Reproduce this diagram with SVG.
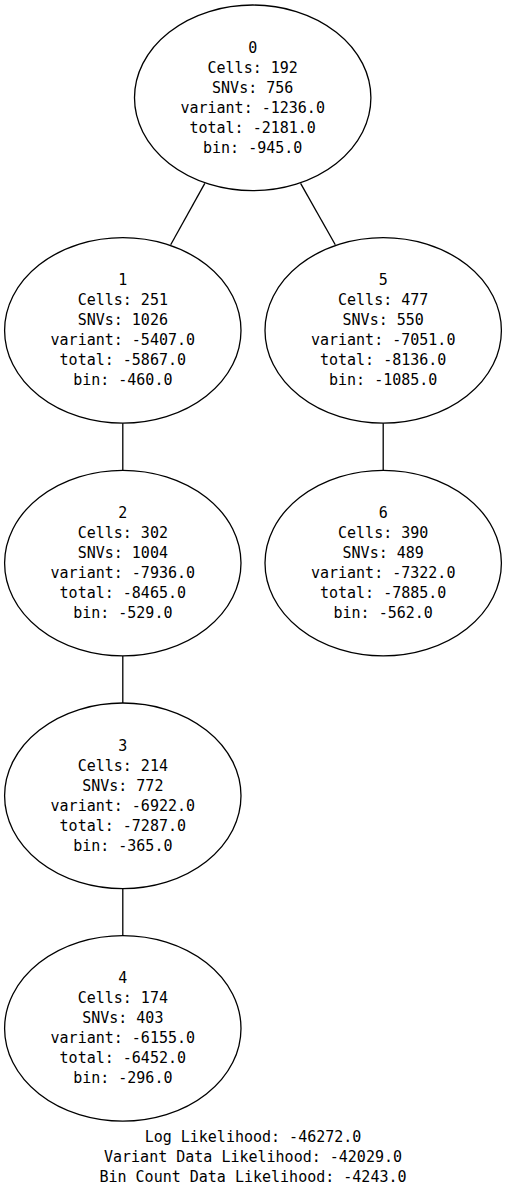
<svg xmlns="http://www.w3.org/2000/svg" width="507" height="1192" viewBox="0 0 507 1192">
<style>
.node ellipse{fill:none;stroke:#000;stroke-width:1.3}
.edges line{stroke:#000;stroke-width:1.3}
text{font-family:"DejaVu Sans Mono","Liberation Mono",monospace;font-size:15px;fill:#000;text-anchor:middle}
</style>
<rect width="507" height="1192" fill="#fff"/>
<g id="edges" class="edges">
<line x1="204.8" y1="183.4" x2="170.7" y2="244.8"/>
<line x1="300.6" y1="183.4" x2="335.3" y2="244.8"/>
<line x1="122.8" y1="423.2" x2="122.8" y2="470.3"/>
<line x1="383.2" y1="423.2" x2="383.2" y2="470.3"/>
<line x1="122.8" y1="655.9" x2="122.8" y2="703"/>
<line x1="122.8" y1="888.6" x2="122.8" y2="935.6"/>
</g>
<g id="node0" class="node">
<ellipse cx="252.7" cy="97.8" rx="118.2" ry="92.8"/>
<text x="252.7" y="52.8">0</text>
<text x="252.7" y="72.8">Cells: 192</text>
<text x="252.7" y="92.8">SNVs: 756</text>
<text x="252.7" y="112.8">variant: -1236.0</text>
<text x="252.7" y="132.8">total: -2181.0</text>
<text x="252.7" y="152.8">bin: -945.0</text>
</g>
<g id="node1" class="node">
<ellipse cx="122.8" cy="330.4" rx="118.2" ry="92.8"/>
<text x="122.8" y="285.4">1</text>
<text x="122.8" y="305.4">Cells: 251</text>
<text x="122.8" y="325.4">SNVs: 1026</text>
<text x="122.8" y="345.4">variant: -5407.0</text>
<text x="122.8" y="365.4">total: -5867.0</text>
<text x="122.8" y="385.4">bin: -460.0</text>
</g>
<g id="node5" class="node">
<ellipse cx="383.2" cy="330.4" rx="118.2" ry="92.8"/>
<text x="383.2" y="285.4">5</text>
<text x="383.2" y="305.4">Cells: 477</text>
<text x="383.2" y="325.4">SNVs: 550</text>
<text x="383.2" y="345.4">variant: -7051.0</text>
<text x="383.2" y="365.4">total: -8136.0</text>
<text x="383.2" y="385.4">bin: -1085.0</text>
</g>
<g id="node2" class="node">
<ellipse cx="122.8" cy="563.1" rx="118.2" ry="92.8"/>
<text x="122.8" y="518.1">2</text>
<text x="122.8" y="538.1">Cells: 302</text>
<text x="122.8" y="558.1">SNVs: 1004</text>
<text x="122.8" y="578.1">variant: -7936.0</text>
<text x="122.8" y="598.1">total: -8465.0</text>
<text x="122.8" y="618.1">bin: -529.0</text>
</g>
<g id="node6" class="node">
<ellipse cx="383.2" cy="563.1" rx="118.2" ry="92.8"/>
<text x="383.2" y="518.1">6</text>
<text x="383.2" y="538.1">Cells: 390</text>
<text x="383.2" y="558.1">SNVs: 489</text>
<text x="383.2" y="578.1">variant: -7322.0</text>
<text x="383.2" y="598.1">total: -7885.0</text>
<text x="383.2" y="618.1">bin: -562.0</text>
</g>
<g id="node3" class="node">
<ellipse cx="122.8" cy="795.8" rx="118.2" ry="92.8"/>
<text x="122.8" y="750.8">3</text>
<text x="122.8" y="770.8">Cells: 214</text>
<text x="122.8" y="790.8">SNVs: 772</text>
<text x="122.8" y="810.8">variant: -6922.0</text>
<text x="122.8" y="830.8">total: -7287.0</text>
<text x="122.8" y="850.8">bin: -365.0</text>
</g>
<g id="node4" class="node">
<ellipse cx="122.8" cy="1028.4" rx="118.2" ry="92.8"/>
<text x="122.8" y="983.4">4</text>
<text x="122.8" y="1003.4">Cells: 174</text>
<text x="122.8" y="1023.4">SNVs: 403</text>
<text x="122.8" y="1043.4">variant: -6155.0</text>
<text x="122.8" y="1063.4">total: -6452.0</text>
<text x="122.8" y="1083.4">bin: -296.0</text>
</g>
<g id="graph-label">
<text x="253" y="1142.3">Log Likelihood: -46272.0</text>
<text x="253" y="1162.3">Variant Data Likelihood: -42029.0</text>
<text x="253" y="1182.3">Bin Count Data Likelihood: -4243.0</text>
</g>
</svg>
